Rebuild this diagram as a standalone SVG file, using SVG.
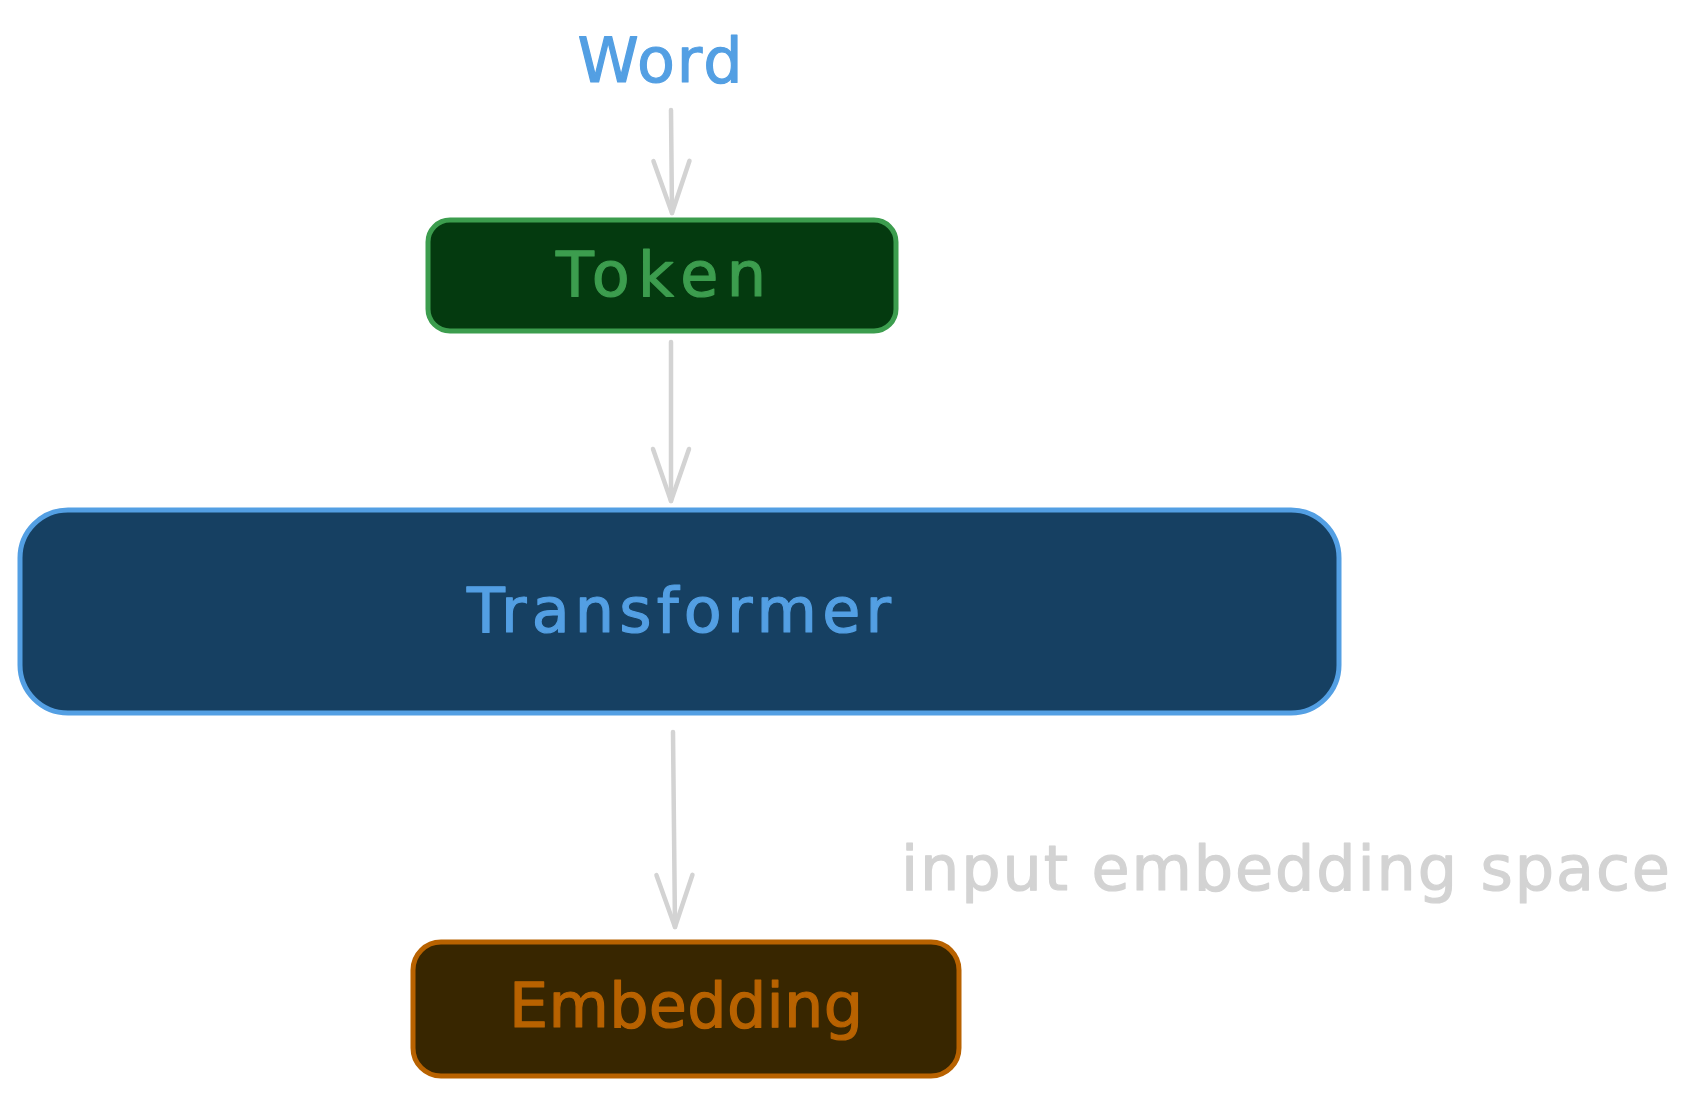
<svg xmlns="http://www.w3.org/2000/svg" width="1692" height="1095" viewBox="0 0 1692 1095">
  <defs>
    <style>
      .lbl { font-family: "DejaVu Sans", "Liberation Sans", sans-serif; font-size: 62px; stroke-width: 1.2; stroke-linejoin: round; }
      .conn { fill: none; stroke: #d3d3d3; stroke-width: 4.5; stroke-linecap: round; stroke-linejoin: round; }
      .box { stroke-width: 5; }
    </style>
    <marker id="arrow" markerUnits="userSpaceOnUse" markerWidth="80" markerHeight="60" viewBox="-60 -30 70 60" refX="0" refY="0" orient="auto">
      <path d="M -52 -18 L 0 0 L -52 18" fill="none" stroke="#d3d3d3" stroke-width="4.5" stroke-linecap="round" stroke-linejoin="round"/>
    </marker>
  </defs>
  <rect width="1692" height="1095" fill="#ffffff"/>

  <g id="connectors">
    <path class="conn" d="M 671 110 L 672 213" marker-end="url(#arrow)"/>
    <path class="conn" d="M 671 342 L 671 501" marker-end="url(#arrow)"/>
    <path class="conn" d="M 673 732 L 675 927" marker-end="url(#arrow)"/>
  </g>

  <g id="word">
    <text class="lbl" x="660" y="82" text-anchor="middle" fill="#539fe3" stroke="#539fe3" textLength="165" lengthAdjust="spacing">Word</text>
  </g>

  <g id="token">
    <rect class="box" x="428" y="220" width="468" height="111" rx="22" fill="#043a0f" stroke="#3c9d4e"/>
    <text class="lbl" x="661" y="296" text-anchor="middle" fill="#3c9d4e" stroke="#3c9d4e" textLength="210" lengthAdjust="spacing">Token</text>
  </g>

  <g id="transformer">
    <rect class="box" x="20" y="510" width="1319" height="203" rx="48" fill="#164062" stroke="#539fe3"/>
    <text class="lbl" x="679" y="632" text-anchor="middle" fill="#539fe3" stroke="#539fe3" textLength="424" lengthAdjust="spacing">Transformer</text>
  </g>

  <g id="embedding">
    <rect class="box" x="413" y="942" width="546" height="134" rx="28" fill="#382600" stroke="#b86200"/>
    <text class="lbl" x="686" y="1027" text-anchor="middle" fill="#b86200" stroke="#b86200" textLength="354" lengthAdjust="spacing">Embedding</text>
  </g>

  <g id="input-embedding-space">
    <text class="lbl" x="901" y="890" fill="#d3d3d3" stroke="#d3d3d3" textLength="769" lengthAdjust="spacing">input embedding space</text>
  </g>
</svg>
